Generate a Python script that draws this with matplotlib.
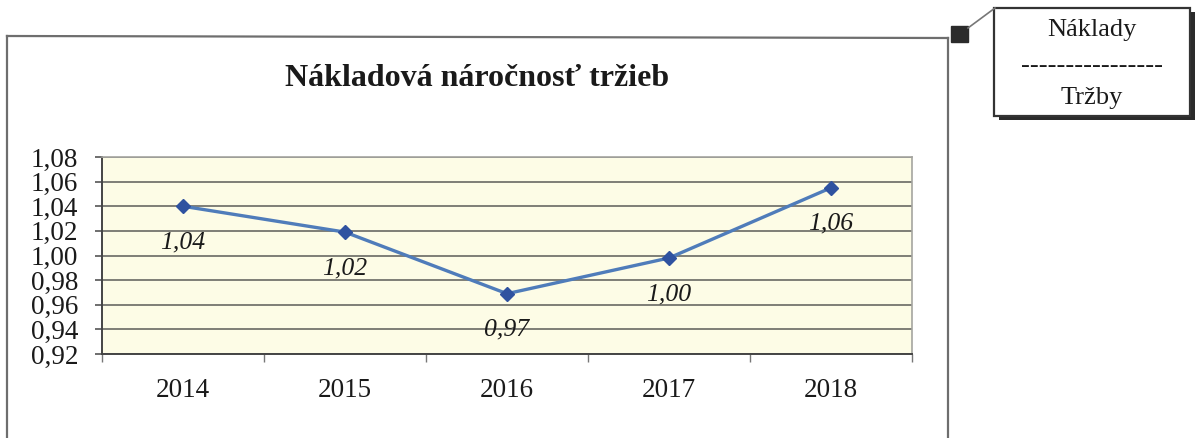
import matplotlib
matplotlib.use("Agg")
import matplotlib.pyplot as plt
import matplotlib.ticker as mticker
from matplotlib.lines import Line2D
from matplotlib.patches import Rectangle
import numpy as np

# ── data ─────────────────────────────────────────────────────────────────────
years = ["2014", "2015", "2016", "2017", "2018"]
ratio = [1.040, 1.019, 0.969, 0.998, 1.055]
ratio_labels = ["1,04", "1,02", "0,97", "1,00", "1,06"]
y_ticks = [0.92, 0.94, 0.96, 0.98, 1.00, 1.02, 1.04, 1.06, 1.08]

TITLE = "Nákladová náročnosť tržieb"
BOX_TOP = "Náklady"
BOX_MID = "----------------"
BOX_BOT = "Tržby"

# ── style ────────────────────────────────────────────────────────────────────
LINE   = "#4f7cba"
MARKER = "#2f52a0"
PLOTBG = "#fdfce6"
GRID   = "#7e7e76"
DARK   = "#1a1a1a"

plt.rcParams.update({
    "font.family": ["Liberation Serif", "DejaVu Serif"],
})

W, H = 1202, 438
fig = plt.figure(figsize=(W / 100, H / 100), dpi=100)
fig.patch.set_facecolor("white")


def px(x, y):
    """pixel coords (from top-left) -> figure fraction"""
    return x / W, 1 - y / H


# outer chart frame (bottom edge is cut off in the reference)
for (x0, y0), (x1, y1) in [((7, 36), (948, 38)), ((7, 36), (7, 438)), ((948, 38), (948, 438))]:
    a, b = px(x0, y0)
    c, d = px(x1, y1)
    fig.add_artist(Line2D([a, c], [b, d], transform=fig.transFigure,
                          color="#6e6e6e", linewidth=1.6))

# plot area
ax = fig.add_axes([102 / W, 1 - 354 / H, 810 / W, 197 / H])
ax.set_facecolor(PLOTBG)

x = np.arange(len(years))
ax.plot(x, ratio, color=LINE, linewidth=2.4, zorder=3)
ax.plot(x, ratio, linestyle="none", marker="D", markersize=7.5,
        color=MARKER, markeredgecolor=MARKER, zorder=4)

for xi, yi, lab in zip(x, ratio, ratio_labels):
    ax.annotate(lab, xy=(xi, yi), xytext=(0, -26), textcoords="offset points",
                ha="center", va="center", fontsize=18.5, style="italic",
                color=DARK, zorder=5)

ax.set_xlim(-0.5, len(years) - 0.5)
ax.set_ylim(y_ticks[0], y_ticks[-1])

# y axis
ax.set_yticks(y_ticks)
ax.yaxis.set_major_formatter(mticker.FuncFormatter(lambda v, _p: f"{v:.2f}".replace(".", ",")))
ax.tick_params(axis="y", length=5, width=1.2, color="#555555", pad=12,
               labelsize=19.5, labelcolor=DARK)
ax.yaxis.grid(True, color=GRID, linewidth=1.4)
ax.set_axisbelow(True)

# x axis: ticks between categories, labels centred
ax.set_xticks(np.arange(-0.5, len(years), 1.0))
ax.set_xticklabels([])
ax.set_xticks(x, minor=True)
ax.set_xticklabels(years, minor=True)
ax.tick_params(axis="x", which="major", length=6, width=1, color="#777777")
ax.tick_params(axis="x", which="minor", length=0, pad=17, labelsize=19.5, labelcolor=DARK)

for side in ["left", "bottom"]:
    ax.spines[side].set_color("#444444")
    ax.spines[side].set_linewidth(1.4)
for side in ["top", "right"]:
    ax.spines[side].set_color("#a5a5a0")
    ax.spines[side].set_linewidth(1.2)

# title
tx, ty = px(477, 78)
fig.text(tx, ty, TITLE, ha="center", va="center", fontsize=23,
         fontweight="bold", color=DARK)

# callout box with the formula
sq_x, sq_y = px(951, 42)
fig.add_artist(Rectangle((sq_x, sq_y), 17 / W, 16 / H, transform=fig.transFigure,
                         facecolor="#2b2b2b", edgecolor="#2b2b2b"))
a, b = px(968, 28)
c, d = px(995, 8)
fig.add_artist(Line2D([a, c], [b, d], transform=fig.transFigure,
                      color="#777777", linewidth=1.2))

bx, by = px(999, 120)
fig.add_artist(Rectangle((bx, by), 196 / W, 108 / H, transform=fig.transFigure,
                         facecolor="#2b2b2b", edgecolor="none"))
bx, by = px(994, 116)
fig.add_artist(Rectangle((bx, by), 196 / W, 108 / H, transform=fig.transFigure,
                         facecolor="white", edgecolor="#333333", linewidth=1.6))

for ypix, txt in [(30, BOX_TOP), (66, BOX_MID), (98, BOX_BOT)]:
    a, b = px(1092, ypix)
    fig.text(a, b, txt, ha="center", va="center", fontsize=19, color=DARK)

fig.savefig("out.png", dpi=100, facecolor="white")
